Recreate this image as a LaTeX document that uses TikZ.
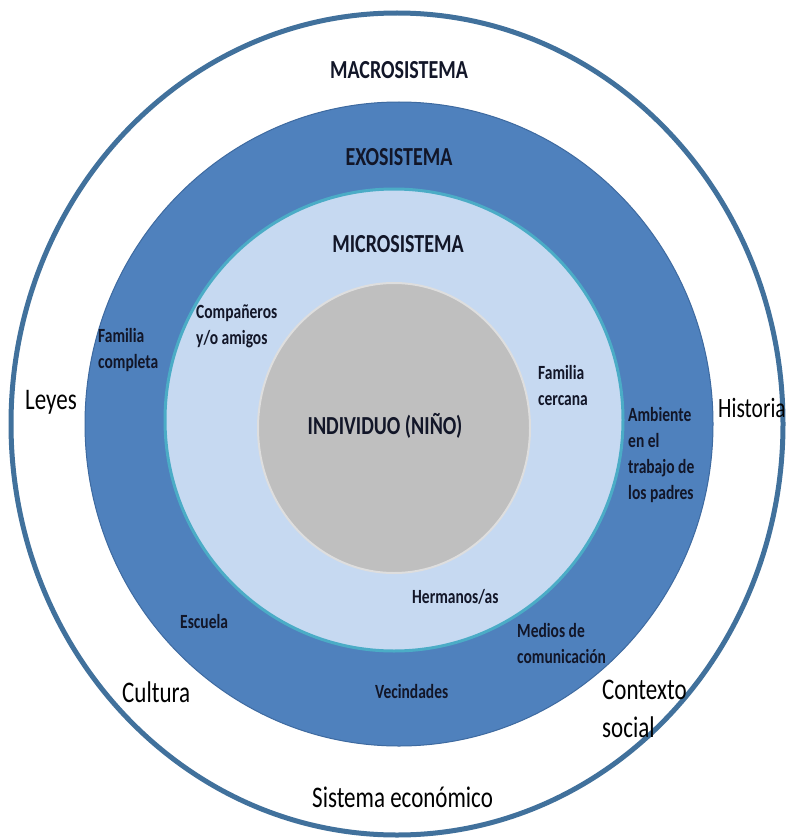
\documentclass[tikz,border=0pt]{standalone}
\usepackage{fontspec}
\setmainfont{Carlito}
\usepackage{graphicx}

\definecolor{macroline}{RGB}{65,113,156}
\definecolor{exofill}{RGB}{79,129,189}
\definecolor{exoline}{RGB}{62,106,160}
\definecolor{microfill}{RGB}{198,217,241}
\definecolor{microline}{RGB}{75,172,198}
\definecolor{corefill}{RGB}{191,191,191}
\definecolor{coreline}{RGB}{222,222,222}
\definecolor{labeltext}{RGB}{18,22,40}

% text is drawn a bit taller than wide, as in the original
\newcommand{\tall}[2][l]{\scalebox{1}[1.3]{\begin{tabular}{@{}#1@{}}#2\end{tabular}}}

\begin{document}
\begin{tikzpicture}[x=1pt, y=-1pt,
		title/.style = {font=\fontsize{20}{24}\selectfont\bfseries, text=labeltext, inner sep=0pt},
		small/.style = {anchor=west, font=\fontsize{15.5}{20}\selectfont\bfseries, text=labeltext, inner sep=0pt},
		big/.style = {anchor=west, font=\fontsize{23}{29}\selectfont, text=black, inner sep=0pt}]
	\fill [white] (0,0) rectangle (790,840);
	\useasboundingbox (0,0) rectangle (790,840);

	% the four systems
	\begin{scope}
		\draw [macroline, line width=5pt, fill=white] (397,424) ellipse [x radius=386, y radius=411];
		\draw [exoline, line width=1pt, fill=exofill] (399,424) ellipse [x radius=314, y radius=322];
		\draw [microline, line width=3pt, fill=microfill] (394,420) ellipse [x radius=229, y radius=231];
		\draw [coreline, line width=2pt, fill=corefill] (394,428) ellipse [x radius=136, y radius=145];
	\end{scope}

	% titles
	\begin{scope}
		\node [title] (macro) at (399,72) {\tall[c]{MACROSISTEMA}};
		\node [title] (exo) at (399,159) {\tall[c]{EXOSISTEMA}};
		\node [title] (micro) at (398,246) {\tall[c]{MICROSISTEMA}};
		\node [title] (nino) at (385,428) {\tall[c]{INDIVIDUO (NIÑO)}};
	\end{scope}

	% microsistema
	\begin{scope}
		\node [small] (companeros) at (196,326) {\tall{Compañeros\\y/o amigos}};
		\node [small] (cercana) at (538,387) {\tall{Familia\\cercana}};
		\node [small] (hermanos) at (412,598) {\tall{Hermanos/as}};
	\end{scope}

	% exosistema
	\begin{scope}
		\node [small] (completa) at (98,350) {\tall{Familia\\completa}};
		\node [small] (ambiente) at (628,455) {\tall{Ambiente\\en el\\trabajo de\\los padres}};
		\node [small] (escuela) at (180,623) {\tall{Escuela}};
		\node [small] (medios) at (517,645) {\tall{Medios de\\comunicación}};
		\node [small] (vecindades) at (375,693) {\tall{Vecindades}};
	\end{scope}

	% macrosistema
	\begin{scope}
		\node [big] (leyes) at (25,402) {\tall{Leyes}};
		\node [big, font=\fontsize{21.5}{27}\selectfont] (historia) at (718,410) {\tall{Historia}};
		\node [big] (cultura) at (122,695) {\tall{Cultura}};
		\node [big] (contexto) at (602,711) {\tall{Contexto\\social}};
		\node [big] (economico) at (312,800) {\tall{Sistema económico}};
	\end{scope}
\end{tikzpicture}
\end{document}
